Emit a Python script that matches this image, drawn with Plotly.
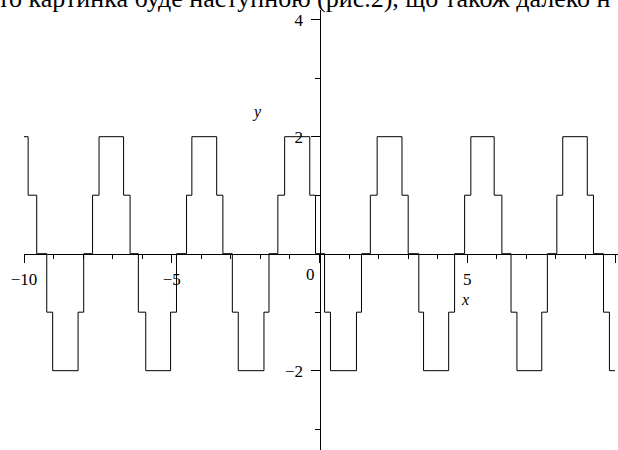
import plotly.graph_objects as go

# step function: x where the level changes, and the level from there on
x_steps = [-10, -9.86, -9.57, -9.23, -9.03, -8.17, -7.98, -7.68, -7.46, -6.63, -6.41,
           -6.13, -5.88, -5.04, -4.84, -4.50, -4.32, -3.48, -3.27, -2.95, -2.75,
           -1.88, -1.71, -1.41, -1.18, -0.33, -0.135, 0.17, 0.37, 1.25, 1.42,
           1.72, 1.95, 2.79, 3.0, 3.36, 3.52, 4.37, 4.57, 4.91, 5.12,
           5.91, 6.17, 6.48, 6.68, 7.52, 7.71, 8.03, 8.23, 9.06, 9.27,
           9.61, 9.81, 10]
y_levels = [2, 1, 0, -1, -2, -1, 0, 1, 2, 1, 0,
            -1, -2, -1, 0, 1, 2, 1, 0, -1, -2,
            -1, 0, 1, 2, 1, 0, -1, -2, -1, 0,
            1, 2, 1, 0, -1, -2, -1, 0, 1, 2,
            1, 0, -1, -2, -1, 0, 1, 2, 1, 0,
            -1, -2, -2]

x_major = [-10, -5, 0, 5, 10]
x_major_text = ['\u221210', '\u22125', '', '5', '10']
x_minor = [-9, -8, -7, -6, -4, -3, -2, -1, 1, 2, 3, 4, 6, 7, 8, 9]
y_major = [-2, 2, 4]
y_major_text = ['\u22122', '2', '4']
y_minor = [-3, -1, 1, 3]

header = 'то картинка буде наступною (рис.2), що також далеко н'

serif = 'Liberation Serif'

fig = go.Figure()
fig.add_trace(go.Scatter(x=x_steps, y=y_levels, mode='lines', line_shape='hv',
                         line=dict(color='black', width=1), hoverinfo='skip'))

fig.update_layout(
    width=618, height=450,
    margin=dict(l=0, r=0, t=0, b=0),
    paper_bgcolor='white', plot_bgcolor='white',
    showlegend=False,
    font=dict(family=serif, size=17, color='black'),
    xaxis=dict(domain=[24/618, 1], range=[-10, 10.1], anchor='free', position=0.4363,
               automargin=False,
               showline=True, linecolor='black', linewidth=1, showgrid=False, zeroline=False,
               tickmode='array', tickvals=x_major, ticktext=x_major_text,
               ticks='outside', ticklen=8, tickcolor='black', ticklabelstandoff=2,
               minor=dict(tickmode='array', tickvals=x_minor, ticks='outside',
                          ticklen=4, tickcolor='black')),
    yaxis=dict(domain=[0, 0.9778], range=[-3.356, 4.166], anchor='free', position=319.5/618,
               automargin=False,
               showline=True, linecolor='black', linewidth=1, showgrid=False, zeroline=False,
               tickmode='array', tickvals=y_major, ticktext=y_major_text,
               ticks='outside', ticklen=9, tickcolor='black', ticklabelstandoff=4,
               minor=dict(tickmode='array', tickvals=y_minor, ticks='outside',
                          ticklen=5, tickcolor='black')),
)

# the 0 label sits left of the vertical axis
fig.add_annotation(x=-0.32, y=-0.36, xref='x', yref='y', text='0', showarrow=False,
                   font=dict(family=serif, size=17))
fig.add_annotation(x=-2.1, y=2.43, xref='x', yref='y', text='<i>y</i>', showarrow=False,
                   font=dict(family=serif, size=16))
fig.add_annotation(x=4.93, y=-0.79, xref='x', yref='y', text='<i>x</i>', showarrow=False,
                   font=dict(family=serif, size=16))

# cut-off line of document text above the plot
fig.add_annotation(x=0, y=1, xref='paper', yref='paper', xanchor='left', yanchor='middle',
                   xshift=-4, yshift=2, text=header, showarrow=False,
                   font=dict(family=serif, size=26))

fig.write_html("out.html", config={'displayModeBar': False},
               post_script="document.body.style.margin='0';document.body.style.overflow='hidden';")
